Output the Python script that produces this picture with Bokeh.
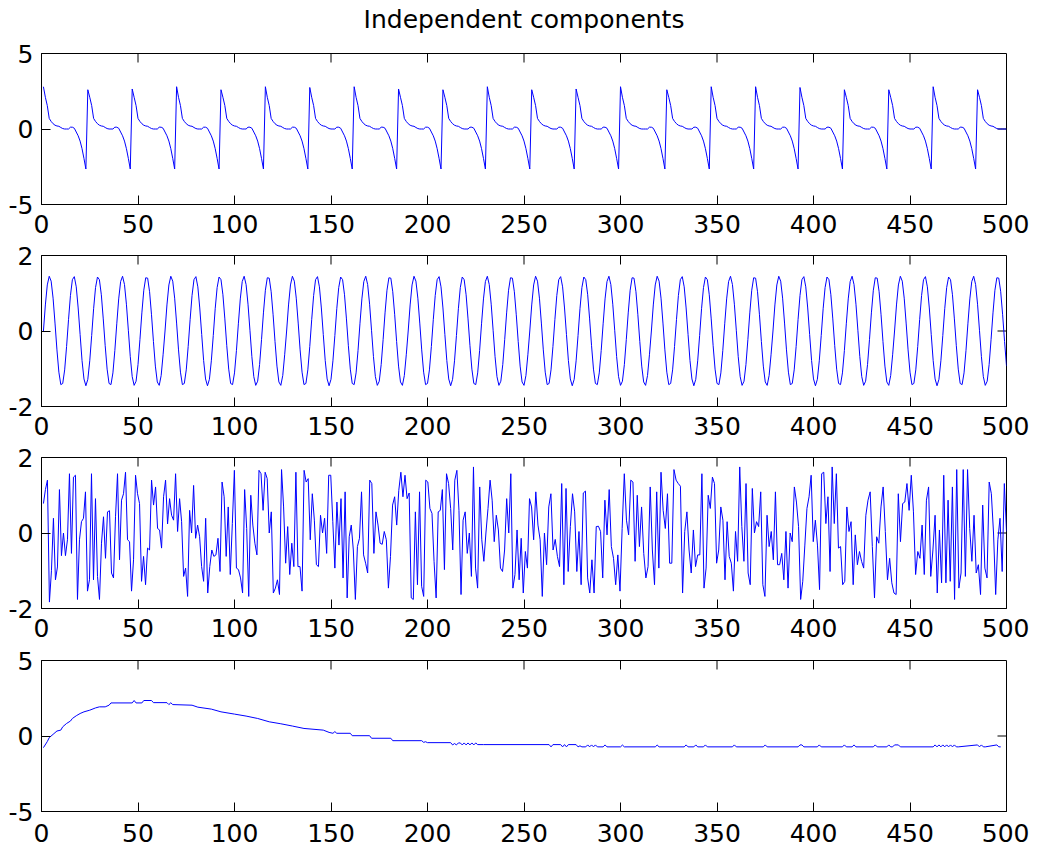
import numpy as np
from bokeh.plotting import figure
from bokeh.models import Range1d, FixedTicker
from bokeh.layouts import column
from bokeh.core.properties import value
from bokeh.embed import file_html
from bokeh.resources import INLINE

TITLE = "Independent components"
X_TICKS = [0, 50, 100, 150, 200, 250, 300, 350, 400, 450, 500]
Y_TICKS_A = [-5, 0, 5]
Y_TICKS_B = [-2, 0, 2]
Y_LABELS_A = ["-5", "0", "5"]
Y_LABELS_B = ["-2", "0", "2"]

# ---- component 1: spike train (peak positions, peak heights, cycle shape)
peaks1 = [1, 24, 47, 70, 93, 116, 139, 162, 185, 208, 231, 254, 277, 300, 324,
          347, 370, 393, 416, 439, 462, 485]
peak_h1 = [2.8, 2.6, 2.65, 2.8, 2.6, 2.8, 2.75, 2.8, 2.65, 2.6, 2.8, 2.6, 2.65,
           2.8, 2.6, 2.8, 2.8, 2.75, 2.6, 2.6, 2.8, 2.6]
decay1 = [2.75, 2.1, 1.55, 0.7, 0.5, 0.35, 0.25, 0.2, 0.18, 0.1, 0.03, 0.0]
pre1 = [0.12, 0.12, 0.05, -0.2, -0.45, -0.8, -1.3, -1.95, -2.65]

# ---- component 2: oscillation, one 5-cycle block as read
block2 = [0.00, 0.69, 1.22, 1.45, 1.32, 0.87, 0.21, -0.50, -1.09, -1.42, -1.39, -1.03,
          -0.41, 0.30, 0.94, 1.36, 1.44, 1.17, 0.61, -0.09, -0.78, -1.27, -1.45, -1.28,
          -0.79, -0.12, 0.59, 1.15, 1.43, 1.36, 0.96, 0.32, -0.39, -1.01, -1.39, -1.42,
          -1.11, -0.52, 0.19, 0.85, 1.31, 1.45, 1.23, 0.71, 0.02, -0.68, -1.21, -1.44,
          -1.33, -0.89, -0.23, 0.48, 1.08, 1.41, 1.40, 1.04, 0.43, -0.28, -0.93, -1.35,
          -1.44, -1.18, -0.63]

# ---- component 3: noisy component, read in six spans
seg_start3 = [1, 84, 169, 255, 340, 426]
seg_end3 = [84, 169, 255, 340, 426, 500]
seg3_1 = [0.78, 1.15, 1.4, -1.83, -1.0, 0.39, -1.24, -0.9, 1.15, -0.6,
          0.0, -0.6, -0.18, 1.57, -0.54, 1.48, 1.53, -1.76, -0.18, 0.3,
          0.39, 1.09, -1.54, -1.24, 1.57, -1.24, 0.91, -1.15, -1.76, -0.27,
          0.43, -0.67, 0.56, 0.59, -1.06, -1.19, 0.43, 1.57, -0.71, 0.87,
          1.04, 1.61, -0.18, -0.23, -1.54, -0.71, 1.53, 1.04, 0.78, -1.28,
          -0.62, -1.37, -0.4, -0.45, 1.4, 0.74, 1.22, 0.12, 0.08, -0.4,
          0.96, 1.4, 0.24, 0.91, 0.47, 0.34, 1.57, 0.04, 0.91, 0.3,
          -1.15, -0.93, -1.68, 0.6, 0.0, 1.26, -0.14, 0.21, -0.1, -0.89]
seg3_2 = [-1.28, 0.39, -1.59, -0.89, -0.45, -0.62, -0.58, -0.14, -1.02, 1.35,
          0.96, -0.62, 0.69, -1.1, 0.25, 1.66, -0.93, -0.97, -1.19, -1.59,
          1.15, 0.12, -1.68, 1.0, 0.21, -0.27, -0.58, 1.66, 1.57, 0.6,
          1.61, 1.44, 0.0, 0.56, -1.59, -1.46, -1.24, -1.63, 1.68, 0.69,
          -0.8, 0.17, -1.1, -0.27, -0.89, 1.61, -0.89, -0.89, -1.54, 1.66,
          1.35, 1.44, -0.18, 1.04, 0.34, -0.84, -0.89, 0.47, 0.0, 0.39,
          -0.54, 1.53, 1.53, 0.3, -0.93, 0.82, -0.32, 0.91, -1.19, 1.09,
          -1.72, -0.1, 0.21, -0.45, -1.76, -0.36, -0.14, 1.09, -0.58, -0.8]
seg3_3 = [-1.06, 1.4, 1.31, -0.54, 0.56, 0.21, -0.27, -0.3, 0.04, -0.18,
          -1.46, -0.62, 0.74, 0.96, 0.21, 1.13, 1.61, 0.96, 1.53, 0.91,
          1.06, -1.72, -1.76, 0.56, -1.37, 1.09, -1.41, -1.68, 1.4, 1.35,
          0.65, 0.52, -0.75, -1.72, 0.56, 0.6, 1.15, -0.97, 1.57, 1.31,
          0.65, -0.45, 1.4, 1.66, 0.6, -1.63, 0.34, 0.56, -0.54, 0.0,
          -1.15, 1.75, -0.93, -1.46, 1.22, -0.18, -0.75, 0.0, 0.65, 1.4,
          0.87, -0.23, 0.47, 0.08, -0.93, -1.02, -0.45, 0.91, 0.0, 1.57,
          -1.46, -1.1, 0.08, -1.24, -0.14, -1.59, -0.49, -0.93, 0.91, 0.69]
seg3_4 = [-0.18, 1.09, 0.21, -0.18, -1.68, 0.0, -0.84, 0.69, 1.04, -0.45,
          -0.17, -0.62, -0.89, 1.31, -1.37, 1.18, -1.02, 0.17, 1.04, 0.56,
          -1.02, 0.04, -1.37, 1.06, 1.11, -1.19, -1.59, -0.71, -1.59, 0.17,
          0.18, 0.04, -1.19, 0.87, -0.05, 1.15, -0.36, -0.67, -1.37, -0.58,
          -1.54, 0.12, 1.57, 0.34, -0.05, 1.4, 1.35, -0.75, 1.0, -0.36,
          0.69, -0.54, -1.19, -0.89, 1.22, -0.45, -1.37, 1.09, -0.93, 1.61,
          0.6, 0.12, 1.04, -0.8, -0.8, 1.68, 1.4, 1.31, 1.24, -1.59,
          0.04, 0.56, -0.45, -1.06, 0.08, -0.89]
seg3_5 = [-0.58, -0.58, 1.57, -1.46, -0.93, 1.0, 0.65, 1.48, 1.31, -0.8,
          -0.45, 0.69, 0.34, -1.24, 0.3, -0.62, -0.8, -1.54, 0.04, -0.75,
          1.75, 0.17, -0.75, 1.31, -1.06, -1.37, 1.18, 0.0, 0.3, 0.17,
          1.09, -1.37, -1.68, 0.47, -0.36, 0.04, -0.71, 1.09, -0.84, -0.84,
          -0.54, -1.24, 0.04, -1.46, 0.0, -0.23, 1.22, 0.82, 0.17, -1.76,
          -1.28, -0.32, 0.65, 0.96, 1.53, -0.23, 0.34, -0.32, -1.5, 1.57,
          1.61, 0.25, 0.96, -1.02, 1.75, 0.25, 1.57, -0.4, -0.36, -1.37,
          -1.28, 0.69, 0.04, 0.3, -1.37, -0.05, -0.84, -0.49, -0.75]
seg3_6 = [-0.93, 0.47, 0.87, 1.09, -0.36, -1.72, -0.1, -0.27, 0.69, 1.22,
          0.04, -1.24, -0.67, -1.32, -1.59, -1.63, 1.04, -0.23, 0.78, 0.82,
          1.31, 0.6, 1.53, 0.56, -1.1, -0.49, -0.67, 0.21, -1.1, 0.87,
          1.22, -1.15, -0.45, 0.47, -1.59, 0.08, -1.32, 1.53, -1.32, 0.87,
          -1.28, 1.22, -1.76, 1.68, -1.46, -1.06, 1.68, -1.15, 1.68, 0.12,
          -0.75, 0.47, -1.06, -0.84, -1.63, 0.74, -0.93, -1.19, 1.35, 1.04,
          0.0, -1.63, -0.18, 0.39, -1.02, 1.31, 0.04]

# ---- component 4: slow drift (breakpoints)
x4 = [1, 3, 4, 6, 8, 10, 11, 13, 15, 16, 18, 20, 22, 25, 28, 30, 33, 35, 36,
      47, 48, 49, 52, 53, 57, 58, 65, 66, 67, 68, 78, 81, 88, 93, 100, 106, 112,
      118, 124, 130, 136, 146, 149, 151, 152, 153, 160, 161, 170, 171, 181, 182,
      197, 198, 199, 200, 212, 213, 214, 215, 216, 217, 218, 219, 220, 221, 222,
      223, 224, 225, 226, 229, 263, 264, 265, 269, 270, 271, 272, 273, 277, 278,
      279, 280, 282, 283, 284, 285, 286, 287, 288, 291, 292, 293, 300, 301, 302,
      318, 319, 320, 333, 334, 335, 338, 339, 340, 343, 344, 345, 358, 359, 360,
      374, 375, 376, 392, 393, 394, 395, 402, 403, 404, 415, 416, 417, 420, 421,
      422, 431, 432, 433, 438, 439, 440, 441, 442, 444, 445, 462, 463, 464, 465,
      466, 467, 468, 469, 470, 471, 472, 473, 474, 475, 485, 486, 487, 488, 489,
      495, 496, 497, 500]
y4 = [-0.77, -0.37, -0.11, 0.11, 0.33, 0.39, 0.61, 0.83, 0.99, 1.16, 1.34, 1.49,
      1.6, 1.71, 1.86, 1.93, 1.93, 2.04, 2.19, 2.19, 2.35, 2.19, 2.19, 2.35, 2.35,
      2.21, 2.21, 2.08, 2.2, 2.08, 2.04, 1.91, 1.78, 1.6, 1.45, 1.32, 1.16, 0.94,
      0.81, 0.66, 0.5, 0.39, 0.24, 0.18, 0.29, 0.18, 0.18, 0.02, 0.02, -0.15,
      -0.15, -0.31, -0.31, -0.42, -0.38, -0.44, -0.44, -0.59, -0.5, -0.59, -0.46,
      -0.46, -0.59, -0.46, -0.59, -0.46, -0.59, -0.46, -0.59, -0.46, -0.57, -0.57,
      -0.57, -0.72, -0.57, -0.57, -0.72, -0.57, -0.72, -0.57, -0.57, -0.72, -0.65,
      -0.72, -0.72, -0.59, -0.72, -0.59, -0.72, -0.59, -0.72, -0.72, -0.59, -0.72,
      -0.72, -0.6, -0.72, -0.72, -0.6, -0.72, -0.72, -0.59, -0.72, -0.72, -0.59,
      -0.72, -0.72, -0.59, -0.72, -0.72, -0.59, -0.72, -0.72, -0.59, -0.72, -0.72,
      -0.59, -0.59, -0.72, -0.72, -0.59, -0.72, -0.72, -0.59, -0.72, -0.72, -0.59,
      -0.72, -0.72, -0.59, -0.72, -0.72, -0.59, -0.72, -0.72, -0.59, -0.59, -0.72,
      -0.72, -0.59, -0.72, -0.59, -0.72, -0.59, -0.72, -0.59, -0.72, -0.59, -0.72,
      -0.59, -0.72, -0.72, -0.59, -0.72, -0.59, -0.72, -0.72, -0.59, -0.72, -0.72]

BLUE = "#0000ff"
FONT = "DejaVu Sans"
FRAME_W, FRAME_H, TICK = 965, 151, 9
LEFT, RIGHT = 41, 23
TITLE_H, TITLE_MID = 40, 19


def build_sig1():
    vals = []
    n = len(peaks1)
    for i, pk in enumerate(peaks1):
        nxt = peaks1[i + 1] if i + 1 < n else 501
        L = nxt - pk
        seg = [peak_h1[i]] + decay1[1:]
        if i + 1 < n:
            seg = seg + [0.0] * (L - len(seg) - len(pre1)) + pre1
        else:
            seg = (seg + [0.0] * L)[:L]
        vals += seg
    xs = list(range(peaks1[0], peaks1[0] + len(vals)))
    return xs, vals


def build_sig2():
    vals = (block2 * 8)[:500]
    return list(range(1, 501)), vals


def build_sig3():
    segs = [seg3_1, seg3_2, seg3_3, seg3_4, seg3_5, seg3_6]
    xs, vals = [], []
    for k, s in enumerate(segs):
        last = k == len(segs) - 1
        xs += list(np.linspace(seg_start3[k], seg_end3[k], len(s), endpoint=last))
        vals += s
    return xs, vals


def style_axis(ax, ticks, labels=None):
    ax.ticker = FixedTicker(ticks=ticks)
    ax.major_tick_in = TICK
    ax.major_tick_out = 0
    ax.minor_tick_in = 0
    ax.minor_tick_out = 0
    ax.axis_line_color = "black"
    ax.axis_line_width = 1
    ax.major_tick_line_color = "black"
    ax.major_label_text_font = FONT
    ax.major_label_text_color = "black"
    ax.major_label_text_font_size = "25px"
    if labels is not None:
        ax.major_label_overrides = {t: l for t, l in zip(ticks, labels)}


def make_title():
    t = figure(frame_width=FRAME_W, frame_height=TITLE_H,
               x_range=Range1d(0, 500), y_range=Range1d(0, TITLE_H),
               x_axis_type=None, y_axis_type=None,
               output_backend="svg", toolbar_location=None,
               min_border_left=LEFT, min_border_right=RIGHT,
               min_border_top=0, min_border_bottom=0)
    t.grid.visible = False
    t.outline_line_color = None
    t.text(x=[250], y=[TITLE_H - TITLE_MID], text=[TITLE],
           text_align="center", text_baseline="middle",
           text_font=value(FONT), text_font_size="25px", text_color="black")
    return t


def make_panel(xs, ys, yr, yticks, ylabels, top, bottom, standoff):
    x0, x1 = 0, 500
    y0, y1 = yr
    p = figure(frame_width=FRAME_W, frame_height=FRAME_H,
               x_range=Range1d(x0, x1), y_range=Range1d(y0, y1),
               output_backend="svg", toolbar_location=None,
               min_border_left=LEFT, min_border_right=RIGHT,
               min_border_top=top, min_border_bottom=bottom)
    p.grid.visible = False
    p.outline_line_color = "black"
    p.background_fill_color = "white"
    p.border_fill_color = "white"
    style_axis(p.xaxis[0], X_TICKS)
    p.xaxis[0].major_label_standoff = standoff
    style_axis(p.yaxis[0], yticks, ylabels)
    p.yaxis[0].major_label_standoff = 8
    # mirrored inward ticks on the top and right edges
    dy = TICK * (y1 - y0) / FRAME_H
    dx = TICK * (x1 - x0) / FRAME_W
    inner_x = [t for t in X_TICKS if x0 < t < x1]
    p.segment(x0=inner_x, y0=[y1] * len(inner_x), x1=inner_x, y1=[y1 - dy] * len(inner_x),
              line_color="black", line_width=1)
    inner_y = [t for t in yticks if y0 < t < y1]
    p.segment(x0=[x1] * len(inner_y), y0=inner_y, x1=[x1 - dx] * len(inner_y), y1=inner_y,
              line_color="black", line_width=1)
    p.line(xs, ys, line_color=BLUE, line_width=1)
    return p


sx1, s1 = build_sig1()
sx2, s2 = build_sig2()
sx3, s3 = build_sig3()

pt = make_title()
p1 = make_panel(sx1, s1, (-5, 5), Y_TICKS_A, Y_LABELS_A, 13, 39, 10)
p2 = make_panel(sx2, s2, (-2, 2), Y_TICKS_B, Y_LABELS_B, 12, 39, 10)
p3 = make_panel(sx3, s3, (-2, 2), Y_TICKS_B, Y_LABELS_B, 12, 39, 10)
p4 = make_panel(x4, y4, (-5, 5), Y_TICKS_A, Y_LABELS_A, 13, 41, 12)

layout = column(pt, p1, p2, p3, p4, spacing=0)
open("out.html", "w").write(file_html(layout, INLINE))
